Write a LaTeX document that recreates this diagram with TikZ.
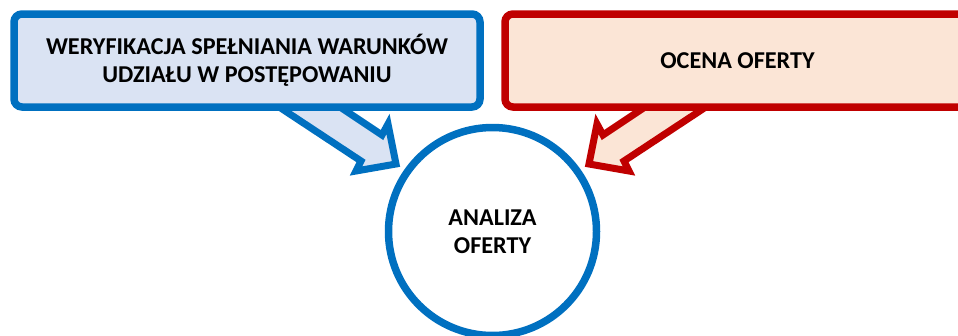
\documentclass[tikz,border=0pt]{standalone}
\usepackage{fontspec}
\setmainfont{Carlito}
\definecolor{blueline}{HTML}{0070C0}
\definecolor{bluefill}{HTML}{DAE3F3}
\definecolor{redline}{HTML}{C00000}
\definecolor{redfill}{HTML}{FBE5D6}
\begin{document}
\begin{tikzpicture}[x=1pt,y=-1pt,
  lbl/.style={font=\bfseries\fontsize{24.2}{27.5}\selectfont, align=center, text=black},
  panel/.style={lbl, rectangle, rounded corners=8pt, line width=7.5pt,
    minimum width=466pt, minimum height=93pt, inner sep=0pt},
  bluepanel/.style={panel, draw=blueline, fill=bluefill},
  redpanel/.style={panel, draw=redline, fill=redfill},
  blockarrow/.style={line width=7pt, line join=miter, miter limit=10},
  hub/.style={lbl, circle, draw=blueline, fill=white, line width=7.5pt,
    minimum size=208pt, inner sep=0pt}]
\useasboundingbox (0,0) rectangle (958,335);

% block arrows pointing from the panels to the hub
\coordinate (ltip) at (396,164);
\coordinate (rtip) at (589,164);
\draw[blockarrow, draw=blueline, fill=bluefill]
  (261,95) -- (361,161) -- (356,171) -- (ltip) -- (388,124) -- (382,135) -- (322,95) -- cycle;
\draw[blockarrow, draw=redline, fill=redfill]
  (724,95) -- (624,161) -- (629,171) -- (rtip) -- (597,124) -- (603,135) -- (663,95) -- cycle;

% panels
\node[bluepanel] (weryfikacja) at (247,60.5)
  {WERYFIKACJA SPEŁNIANIA WARUNKÓW\\UDZIAŁU W POSTĘPOWANIU};
\node[redpanel, minimum width=474pt] (ocena) at (742,60.5)
  {\hspace*{-9pt}OCENA OFERTY};

% hub
\node[hub] (analiza) at (492.5,231.5) {ANALIZA\\OFERTY};
\end{tikzpicture}
\end{document}
